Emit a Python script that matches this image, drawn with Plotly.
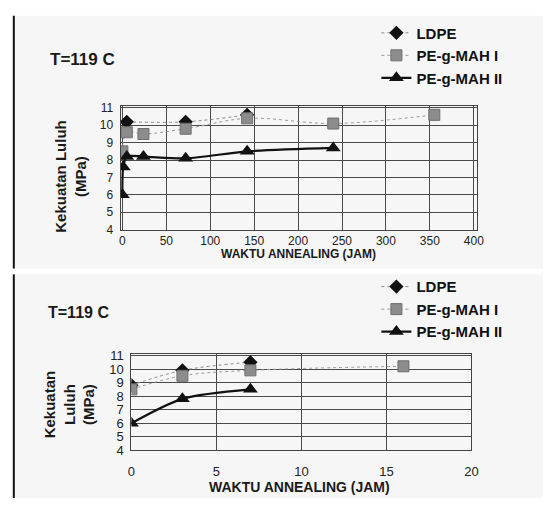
import plotly.graph_objects as go

# Annealing at T = 119 C: yield strength vs annealing time
# Long-time series (0-400 h)
jam_ldpe_a = [5, 72, 142]
ldpe_a = [10.2, 10.2, 10.6]
jam_mah1_a = [0, 5, 24, 72, 142, 240, 355]
mah1_a = [8.5, 9.6, 9.5, 9.8, 10.4, 10.1, 10.6]
jam_mah2_a = [0, 1, 5, 24, 72, 142, 240]
mah2_a = [6.0, 7.6, 8.2, 8.2, 8.1, 8.5, 8.7]

# Short-time series (0-20 h)
jam_ldpe_b = [0, 3, 7]
ldpe_b = [8.8, 9.9, 10.5]
jam_mah1_b = [0, 3, 7, 16]
mah1_b = [8.5, 9.5, 9.9, 10.2]
jam_mah2_b = [0, 3, 7]
mah2_b = [6.0, 7.8, 8.5]

y_ticks = [4, 5, 6, 7, 8, 9, 10, 11]
x_ticks_a = [0, 50, 100, 150, 200, 250, 300, 350, 400]
x_ticks_b = [0, 5, 10, 15, 20]

FONT = "Liberation Sans, Arial, sans-serif"
W, H = 550, 506


def px(x):
    return x / W


def py(y):
    return 1 - y / H


fig = go.Figure()


def add_series(xs, ys, xa, ya, legend):
    ldpe_x, m1_x, m2_x = xs
    ldpe_y, m1_y, m2_y = ys
    fig.add_trace(go.Scatter(
        x=ldpe_x, y=ldpe_y, name="LDPE", xaxis=xa, yaxis=ya, legend=legend,
        mode="lines+markers", line=dict(color="#8a8a8a", width=1, dash="dot", shape="spline"),
        marker=dict(symbol="diamond", size=11, color="#111111")))
    fig.add_trace(go.Scatter(
        x=m1_x, y=m1_y, name="PE-g-MAH I", xaxis=xa, yaxis=ya, legend=legend,
        mode="lines+markers", line=dict(color="#9a9a9a", width=1, dash="dot", shape="spline"),
        marker=dict(symbol="square", size=11, color="#8c8c8c",
                    line=dict(color="#6e6e6e", width=1))))
    fig.add_trace(go.Scatter(
        x=m2_x, y=m2_y, name="PE-g-MAH II", xaxis=xa, yaxis=ya, legend=legend,
        mode="lines+markers", line=dict(color="#111111", width=2.2, shape="spline", smoothing=0.8),
        marker=dict(symbol="triangle-up", size=13, color="#111111")))


add_series([jam_ldpe_a, jam_mah1_a, jam_mah2_a], [ldpe_a, mah1_a, mah2_a], "x", "y", "legend")
add_series([jam_ldpe_b, jam_mah1_b, jam_mah2_b], [ldpe_b, mah1_b, mah2_b], "x2", "y2", "legend2")


def axis_style(size):
    return dict(showline=True, linecolor="#444444", linewidth=1, mirror=True,
                showgrid=True, gridcolor="#4a4a4a", gridwidth=1, zeroline=False,
                ticks="", tickfont=dict(family=FONT, size=size, color="#222222"))


legend_font = dict(family=FONT, size=15, color="#111111", weight="bold")

fig.update_layout(
    width=W, height=H, margin=dict(l=0, r=0, t=0, b=0),
    paper_bgcolor="#ffffff", plot_bgcolor="#dedede",
    xaxis=dict(domain=[px(119), px(483)], range=[-2, 404], tickvals=x_ticks_a,
               anchor="y", ticklabelstandoff=0, **axis_style(12)),
    yaxis=dict(domain=[py(230), py(103)], range=[4, 11.1], tickvals=y_ticks,
               anchor="x", ticklabelstandoff=4, **axis_style(12)),
    xaxis2=dict(domain=[px(130), px(477)], range=[0, 20], tickvals=x_ticks_b,
                anchor="y2", ticklabelstandoff=9, **axis_style(13)),
    yaxis2=dict(domain=[py(457), py(358)], range=[4, 11.1], tickvals=y_ticks,
                anchor="x2", ticklabelstandoff=4, **axis_style(13)),
    legend=dict(x=px(380), y=py(51), xanchor="left", yanchor="middle",
                bgcolor="rgba(0,0,0,0)", font=legend_font, itemwidth=30, tracegroupgap=0),
    legend2=dict(x=px(380), y=py(312), xanchor="left", yanchor="middle",
                 bgcolor="rgba(0,0,0,0)", font=legend_font, itemwidth=30, tracegroupgap=0),
)

bold = dict(family=FONT, color="#1a1a1a", weight="bold")
annotations = [
    dict(text="T=119 C", x=px(45), y=py(55), xanchor="left", yanchor="middle",
         font=dict(size=17, **bold)),
    dict(text="T=119 C", x=px(43), y=py(315), xanchor="left", yanchor="middle",
         font=dict(size=16, **bold)),
    dict(text="WAKTU ANNEALING (JAM)", x=px(300), y=py(255), xanchor="center", yanchor="middle",
         font=dict(size=12, **bold)),
    dict(text="WAKTU ANNEALING (JAM)", x=px(302), y=py(495), xanchor="center", yanchor="middle",
         font=dict(size=14, **bold)),
    dict(text="Kekuatan Luluh<br>(MPa)", x=px(68), y=py(175), xanchor="center", yanchor="middle",
         textangle=-90, font=dict(size=15, **bold)),
    dict(text="Kekuatan<br>Luluh<br>(MPa)", x=px(66), y=py(410), xanchor="center", yanchor="middle",
         textangle=-90, font=dict(size=15, **bold)),
]
for a in annotations:
    a.update(xref="paper", yref="paper", showarrow=False)
fig.update_layout(annotations=annotations)

# Page panels: light sheet background with a dark left edge on each
shapes = [
    dict(type="rect", x0=px(10), x1=1, y0=py(270), y1=py(10), fillcolor="#f6f6f6",
         line=dict(width=0), layer="below"),
    dict(type="rect", x0=px(10), x1=1, y0=0, y1=py(276), fillcolor="#f6f6f6",
         line=dict(width=0), layer="below"),
    dict(type="line", x0=px(10), x1=px(10), y0=py(270), y1=py(10),
         line=dict(color="#111111", width=2)),
    dict(type="line", x0=px(10), x1=px(10), y0=0, y1=py(276),
         line=dict(color="#111111", width=2)),
]
for s in shapes:
    s.update(xref="paper", yref="paper")
fig.update_layout(shapes=shapes)

fig.write_html("out.html")
